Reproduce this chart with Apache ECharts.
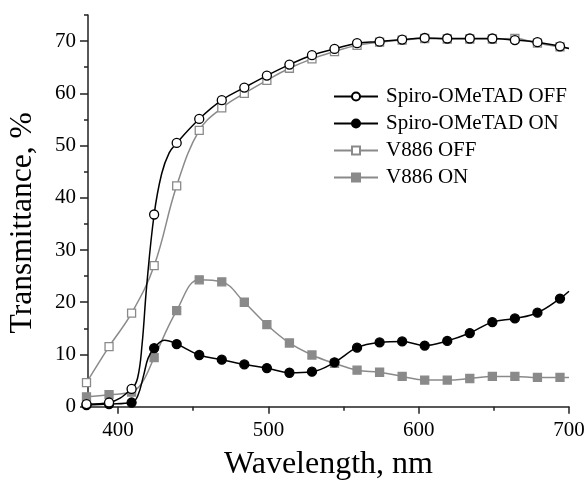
<!DOCTYPE html>
<html>
<head>
<meta charset="utf-8">
<script src="https://cdn.jsdelivr.net/npm/echarts@6/dist/echarts.min.js"></script>
<style>html,body{margin:0;padding:0;background:#fff;}#c{width:587px;height:480px;}</style>
</head>
<body>
<div id="c"></div>
<script>
// Wavelength (nm), transmittance (%), marker flag (1 = visible marker).
const seriesNames = ['Spiro-OMeTAD OFF', 'Spiro-OMeTAD ON', 'V886 OFF', 'V886 ON'];

const spiroOff = [
  [379,0.5,1],[394,0.8,1],[409,3.4,1],[413,5.5,0],[416,12,0],[419,23,0],[424,36.8,1],
  [429,44.6,0],[434,48.6,0],
  [439,50.5,1],[454,55.1,1],[469,58.7,1],[484,61.1,1],[499,63.4,1],[514,65.5,1],[529,67.3,1],
  [544,68.5,1],[559,69.6,1],[574,69.9,1],[589,70.3,1],[604,70.6,1],[619,70.5,1],[634,70.5,1],
  [649,70.5,1],[664,70.2,1],[679,69.8,1],[694,69.0,1],[700,68.6,0]
];
const spiroOn = [
  [379,0.3,1],[394,0.5,1],[409,0.8,1],[413,2,0],[417,6,0],[420,9.3,0],[424,11.2,1],[431,12.7,0],
  [439,12.0,1],[454,9.9,1],[469,9.0,1],[484,8.1,1],[499,7.4,1],[514,6.5,1],[529,6.7,1],
  [544,8.5,1],[559,11.3,1],[574,12.3,1],[589,12.5,1],[604,11.7,1],[619,12.6,1],[634,14.1,1],
  [649,16.2,1],[664,16.9,1],[679,18.0,1],[694,20.7,1],[700,22.1,0]
];
const v886Off = [
  [379,4.6,1],[394,11.5,1],[409,17.9,1],[424,27.0,1],[439,42.3,1],[454,52.9,1],[469,57.2,1],
  [484,60.0,1],[499,62.5,1],[514,64.8,1],[529,66.6,1],[544,68.0,1],[559,69.2,1],[574,69.8,1],
  [589,70.2,1],[604,70.5,1],[619,70.4,1],[634,70.4,1],[649,70.4,1],[664,70.5,1],[679,69.6,1],
  [694,68.9,1],[700,68.6,0]
];
const v886On = [
  [379,1.9,1],[394,2.3,1],[409,2.8,1],[416,4.6,0],[424,9.4,1],[439,18.4,1],[454,24.3,1],[469,23.9,1],
  [484,20.0,1],[499,15.7,1],[514,12.2,1],[529,9.9,1],[544,8.3,1],[559,7.0,1],[574,6.6,1],
  [589,5.8,1],[604,5.1,1],[619,5.1,1],[634,5.4,1],[649,5.8,1],[664,5.8,1],[679,5.6,1],
  [694,5.6,1],[700,5.6,0]
];

const xMajorTicks = [400, 500, 600, 700];
const xMinorTicks = [450, 550, 650];
const yMajorTicks = [0, 10, 20, 30, 40, 50, 60, 70];
const yMinorTicks = [5, 15, 25, 35, 45, 55, 65, 75];

const FONT = '"Liberation Serif", "Times New Roman", serif';
const GRAY = '#8a8a8a';

function toData(arr) {
  return arr.map(p => p[2] ? {value: [p[0], p[1]]} : {value: [p[0], p[1]], symbol: 'none'});
}

function mk(name, arr, color, symbol, fill, z) {
  return {
    name: name, type: 'line', data: toData(arr), smooth: 0.4,
    symbol: symbol, symbolSize: symbol === 'circle' ? 9 : 8, showAllSymbol: true,
    clip: false, z: z, xAxisIndex: 0, yAxisIndex: 0,
    lineStyle: {color: color, width: 1.5},
    itemStyle: {color: fill, borderColor: color, borderWidth: 1.3},
    emphasis: {disabled: true}, animation: false
  };
}

const grid = {left: 88, right: 18, top: 15, bottom: 73.3, outerBoundsMode: 'none', containLabel: false};
const chart = echarts.init(document.getElementById('c'), null, {renderer: 'canvas'});
chart.setOption({
  animation: false,
  backgroundColor: '#fff',
  grid: grid,
  legend: {
    orient: 'vertical', left: 333, top: 86, padding: 0,
    data: seriesNames,
    itemWidth: 44, itemHeight: 10, itemGap: 6,
    textStyle: {fontFamily: FONT, fontSize: 21, color: '#000', padding: [0,0,0,3]},
    selectedMode: false
  },
  xAxis: [{
    type: 'value', min: 380, max: 700,
    axisLine: {show: true, lineStyle: {color: '#222', width: 1.5}},
    axisTick: {show: true, inside: false, length: 7, customValues: xMajorTicks, lineStyle: {color: '#222', width: 1.5}},
    axisLabel: {customValues: xMajorTicks, fontFamily: FONT, fontSize: 21, color: '#000', margin: 13},
    splitLine: {show: false},
    name: 'Wavelength, nm', nameLocation: 'middle', nameGap: 42,
    nameTextStyle: {fontFamily: FONT, fontSize: 32, color: '#000'}
  }, {
    type: 'value', min: 380, max: 700, position: 'bottom',
    axisLine: {show: false},
    axisTick: {show: true, length: 4, customValues: xMinorTicks, lineStyle: {color: '#222', width: 1.5}},
    axisLabel: {show: false}, splitLine: {show: false}
  }],
  yAxis: [{
    type: 'value', min: 0, max: 75,
    axisLine: {show: true, lineStyle: {color: '#222', width: 1.5}},
    axisTick: {show: true, length: 8, customValues: yMajorTicks, lineStyle: {color: '#222', width: 1.5}},
    axisLabel: {customValues: yMajorTicks, fontFamily: FONT, fontSize: 21, color: '#000', margin: 12},
    splitLine: {show: false},
    name: 'Transmittance, %', nameLocation: 'middle', nameGap: 49, nameRotate: 90,
    nameTextStyle: {fontFamily: FONT, fontSize: 31.5, color: '#000', padding: [0, 24, 0, 0]}
  }, {
    type: 'value', min: 0, max: 75, position: 'left',
    axisLine: {show: false},
    axisTick: {show: true, length: 4, customValues: yMinorTicks, lineStyle: {color: '#222', width: 1.5}},
    axisLabel: {show: false}, splitLine: {show: false}
  }],
  series: [
    mk(seriesNames[0], spiroOff, '#000', 'circle', '#fff', 4),
    mk(seriesNames[1], spiroOn, '#000', 'circle', '#000', 3),
    mk(seriesNames[2], v886Off, GRAY, 'rect', '#fff', 2),
    mk(seriesNames[3], v886On, GRAY, 'rect', GRAY, 1)
  ]
});
</script>
</body>
</html>
